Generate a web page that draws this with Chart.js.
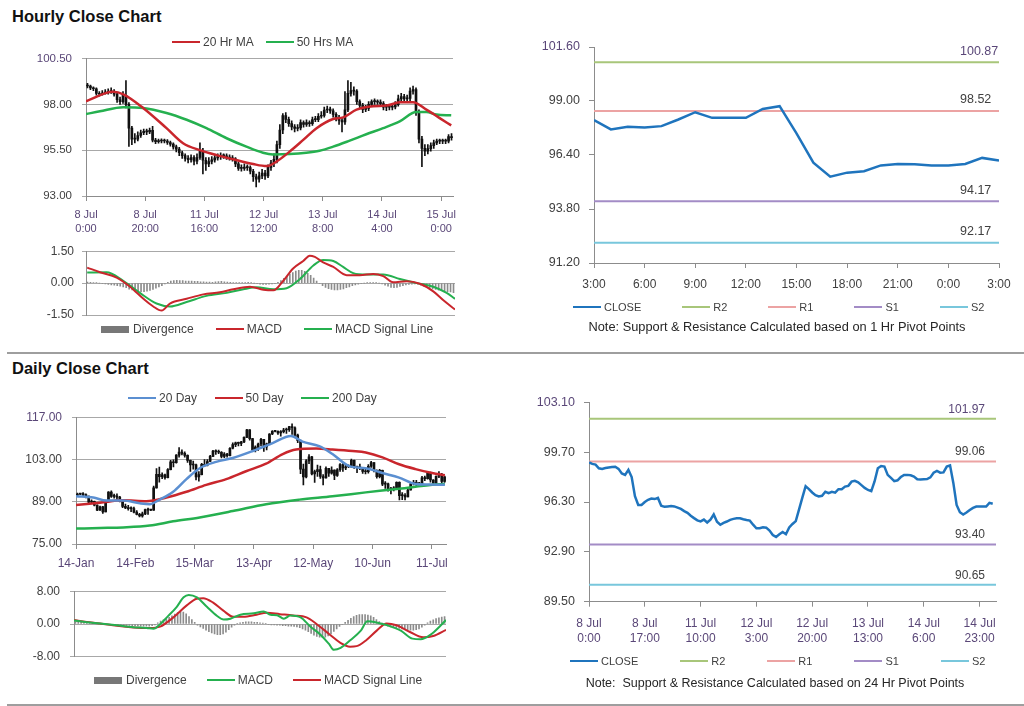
<!DOCTYPE html>
<html>
<head>
<meta charset="utf-8">
<title>Hourly and Daily Close Charts</title>
<script src="https://cdn.jsdelivr.net/npm/chart.js@4.4.1/dist/chart.umd.min.js"></script>
<style>
  body { margin: 0; background: #fff; font-family: Arial, "Liberation Sans", sans-serif; }
  #page { position: relative; width: 1024px; height: 706px; overflow: hidden; }
  canvas { position: absolute; }
  .heading { position: absolute; left: 12px; font-size: 16.5px; line-height: 15px; font-weight: bold; color: #111; }
  .rule { position: absolute; left: 7px; width: 1017px; height: 2px; background: #9e9e9e; }
  .legend { position: absolute; display: flex; align-items: center; height: 16px; font-size: 12px; color: #404040; white-space: nowrap; }
  .legend .item { display: flex; align-items: center; height: 16px; }
  .legend i { display: inline-block; width: 28px; height: 2px; margin-right: 3px; }
  .legend i.box { height: 7px; margin-right: 4px; }
  .note { position: absolute; width: 400px; text-align: center; line-height: 14px; color: #262626; white-space: pre; }
</style>
</head>
<body>
<div id="page">
  <div class="heading" style="top:8.5px">Hourly Close Chart</div>
  <div class="heading" style="top:361px">Daily Close Chart</div>
  <div class="rule" style="top:352px"></div>
  <div class="rule" style="top:704px"></div>

  <canvas id="hourlyPrice" width="470" height="206" style="left:0;top:30px"></canvas>
  <canvas id="hourlyMacd" width="470" height="95" style="left:0;top:236px"></canvas>
  <canvas id="hourlyPivot" width="504" height="270" style="left:520px;top:30px"></canvas>
  <canvas id="dailyPrice" width="470" height="172" style="left:0;top:400px"></canvas>
  <canvas id="dailyMacd" width="470" height="100" style="left:0;top:574px"></canvas>
  <canvas id="dailyPivot" width="504" height="280" style="left:520px;top:380px"></canvas>

  <div class="legend" id="legHourlyPrice" style="left:172px;top:34px;gap:12px"></div>
  <div class="legend" id="legHourlyMacd" style="left:101px;top:321px;gap:22px"></div>
  <div class="legend" id="legHourlyPivot" style="left:573px;top:299px;gap:41px;font-size:11px"></div>
  <div class="legend" id="legDailyPrice" style="left:128px;top:390px;gap:17.5px"></div>
  <div class="legend" id="legDailyMacd" style="left:94px;top:672px;gap:20px"></div>
  <div class="legend" id="legDailyPivot" style="left:570px;top:653px;gap:42px;font-size:11px"></div>

  <div class="note" style="left:577px;top:320px;font-size:12.8px">Note: Support &amp; Resistance Calculated based on 1 Hr Pivot Points</div>
  <div class="note" style="left:575px;top:676px;font-size:12.5px">Note:  Support &amp; Resistance Calculated based on 24 Hr Pivot Points</div>
</div>

<script>
// ---------- hourly data (8 Jul 0:00 -> 15 Jul 3:00, one bar per hour) ----------
const hourlyTickAt = [0, 20, 40, 60, 80, 100, 120];
const hourlyTickLabels = [['8 Jul', '0:00'], ['8 Jul', '20:00'], ['11 Jul', '16:00'], ['12 Jul', '12:00'],
  ['13 Jul', '8:00'], ['14 Jul', '4:00'], ['15 Jul', '0:00']];
const hourlyPriceTicks = [93, 95.5, 98, 100.5];

const hourlyFirstOpen = 99.05;
const hourlyClose = [
  99.00, 98.90, 98.85, 98.60, 98.55, 98.62, 98.66, 98.69, 98.71, 98.56,
  98.25, 98.15, 98.49, 98.00, 96.70, 96.10, 96.10, 96.30, 96.45, 96.53,
  96.50, 96.58, 96.05, 95.97, 96.00, 96.02, 96.00, 95.92, 95.83, 95.68,
  95.56, 95.36, 95.20, 95.05, 94.98, 95.10, 94.90, 95.10, 95.45, 94.95,
  94.75, 94.88, 94.97, 95.08, 95.15, 95.19, 95.19, 95.12, 95.07, 95.03,
  94.75, 94.51, 94.51, 94.58, 94.55, 94.35, 94.05, 93.92, 94.10, 94.25,
  94.10, 94.56, 94.80, 95.00, 95.80, 96.60, 97.38, 97.18, 96.95, 96.77,
  96.68, 96.72, 97.00, 96.90, 97.00, 96.94, 97.17, 97.17, 97.35, 97.40,
  97.69, 97.74, 97.64, 97.45, 97.26, 97.12, 97.04, 97.70, 98.60, 98.75,
  98.72, 98.15, 97.94, 97.72, 97.78, 98.00, 98.15, 98.15, 98.12, 98.04,
  97.85, 97.84, 97.85, 97.86, 97.98, 98.30, 98.42, 98.30, 98.32, 98.72,
  98.80, 97.60, 96.10, 95.60, 95.45, 95.58, 95.75, 95.90, 95.99, 95.99,
  95.99, 95.99, 96.24, 96.18
];
const hourlyHigh = [
  99.15, 99.05, 98.95, 98.90, 98.70, 98.75, 98.80, 98.85, 98.90, 98.80,
  98.60, 98.40, 98.70, 99.30, 98.10, 96.80, 96.40, 96.50, 96.60, 96.65,
  96.65, 96.70, 96.80, 96.15, 96.10, 96.12, 96.10, 96.08, 96.00, 95.90,
  95.78, 95.65, 95.45, 95.30, 95.20, 95.25, 95.20, 95.30, 95.90, 95.60,
  95.10, 95.10, 95.15, 95.25, 95.30, 95.35, 95.30, 95.30, 95.25, 95.20,
  95.10, 94.85, 94.70, 94.75, 94.70, 94.65, 94.45, 94.20, 94.30, 94.45,
  94.40, 94.70, 94.95, 95.30, 96.00, 96.90, 97.50, 97.55, 97.30, 97.10,
  96.90, 96.90, 97.15, 97.10, 97.15, 97.10, 97.30, 97.35, 97.50, 97.60,
  97.85, 97.90, 97.85, 97.75, 97.55, 97.40, 97.25, 98.70, 99.30, 99.20,
  98.95, 98.80, 98.25, 98.05, 97.95, 98.15, 98.25, 98.30, 98.25, 98.25,
  98.15, 98.00, 98.00, 98.00, 98.15, 98.50, 98.60, 98.55, 98.50, 98.90,
  99.00, 98.90, 97.70, 96.25, 95.80, 95.80, 95.90, 96.05, 96.10, 96.10,
  96.10, 96.10, 96.35, 96.40
];
const hourlyLow = [
  98.90, 98.80, 98.75, 98.50, 98.45, 98.50, 98.55, 98.55, 98.60, 98.45,
  98.10, 98.00, 98.05, 97.80, 95.70, 95.80, 95.90, 96.00, 96.20, 96.35,
  96.35, 96.40, 95.95, 95.85, 95.88, 95.90, 95.90, 95.82, 95.72, 95.55,
  95.40, 95.20, 95.05, 94.90, 94.80, 94.85, 94.70, 94.75, 95.00, 94.20,
  94.40, 94.60, 94.75, 94.85, 94.95, 95.00, 95.05, 95.00, 94.95, 94.90,
  94.60, 94.40, 94.35, 94.40, 94.40, 94.20, 93.80, 93.50, 93.75, 93.95,
  93.90, 94.00, 94.40, 94.60, 94.80, 95.60, 96.40, 97.00, 96.80, 96.60,
  96.50, 96.55, 96.60, 96.75, 96.80, 96.80, 96.85, 97.05, 97.05, 97.25,
  97.30, 97.55, 97.50, 97.30, 97.10, 96.90, 96.50, 96.90, 97.60, 98.45,
  98.50, 98.00, 97.80, 97.55, 97.60, 97.65, 97.90, 98.00, 98.00, 97.90,
  97.70, 97.65, 97.70, 97.70, 97.75, 97.90, 98.20, 98.15, 98.15, 98.20,
  98.55, 97.40, 95.90, 94.60, 95.20, 95.30, 95.45, 95.60, 95.80, 95.85,
  95.85, 95.85, 95.90, 96.05
];

const hourlyMa20X = [0, 9.2, 12.6, 19.3, 27.2, 32.8, 38.5, 44.1, 49.7, 56.5, 61, 64.3, 68.8, 73.4, 77.9,
  83.5, 86.9, 91.4, 97, 101.5, 106, 110.5, 115, 119.5, 123.4];
const hourlyMa20 = [98.17, 98.68, 98.54, 97.8, 96.7, 95.88, 95.5, 95.23, 95.0, 94.74, 94.63, 94.87, 95.42, 96.06, 96.7,
  97.2, 97.29, 97.71, 97.9, 97.93, 98.11, 98.11, 97.71, 97.25, 96.85];
const hourlyMa50X = [0, 4.7, 12.6, 19.3, 27.2, 34, 40.7, 47.5, 54.2, 59.8, 63.2, 68.8, 74.4, 78.9, 83.5,
  89.1, 94.7, 100.4, 106, 111.6, 115, 118.4, 123.4];
const hourlyMa50 = [97.47, 97.62, 97.84, 97.8, 97.53, 97.16, 96.7, 96.15, 95.69, 95.36, 95.27, 95.29, 95.36, 95.47, 95.69,
  96.02, 96.37, 96.7, 97.07, 97.58, 97.58, 97.44, 97.4];

const hourlyMacdTicks = [-1.5, 0, 1.5];
const hourlyMacdX = [0.4, 4.7, 10.3, 14.8, 19.3, 22.6, 25.4, 28.2, 33.8, 39.4, 45, 49.5, 55.1, 59.6, 63, 66.3,
  69.6, 73, 75.2, 76.9, 79.7, 83.1, 87.6, 92, 96.5, 99.9, 103.2, 107.7, 112.2, 116.7, 120.1, 124];
const hourlyMacd = [0.73, 0.51, 0.26, -0.17, -0.74, -1.1, -1.29, -0.96, -0.74, -0.53, -0.43, -0.29, -0.17, -0.31, -0.34, 0.11,
  0.69, 1.04, 1.29, 1.23, 0.97, 0.76, 0.37, 0.37, 0.43, 0.33, 0.04, 0.09, -0.03, -0.39, -0.81, -1.24];
const hourlySignalX = [0.4, 6.9, 12.5, 18.1, 23.7, 28.2, 33.8, 40.5, 47.3, 52.9, 57.3, 62.9, 67.4, 71.9, 76.4,
  79.7, 83.1, 86.4, 89.8, 94.3, 99.9, 105.5, 111.1, 116.7, 121.2, 124];
const hourlySignal = [0.5, 0.51, 0.11, -0.46, -0.96, -1.1, -0.89, -0.6, -0.46, -0.29, -0.2, -0.29, -0.24, 0.19, 0.83,
  1.09, 1.04, 0.76, 0.47, 0.4, 0.4, 0.19, 0, -0.17, -0.46, -0.74];
const hourlyDivergence = [
  0.05, 0.04, 0.03, 0.02, 0.00, -0.02, -0.04, -0.06, -0.08, -0.10,
  -0.12, -0.15, -0.18, -0.22, -0.28, -0.32, -0.36, -0.38, -0.40, -0.40,
  -0.38, -0.35, -0.30, -0.24, -0.18, -0.12, -0.04, 0.04, 0.10, 0.12,
  0.13, 0.12, 0.12, 0.10, 0.10, 0.10, 0.08, 0.08, 0.06, 0.06,
  0.05, 0.05, 0.04, 0.06, 0.07, 0.08, 0.06, 0.05, 0.04, 0.03,
  0.02, 0.02, 0.02, 0.03, 0.04, 0.02, 0.00, -0.03, -0.05, -0.06,
  -0.06, -0.05, -0.04, -0.02, 0.04, 0.12, 0.22, 0.32, 0.42, 0.50,
  0.56, 0.60, 0.60, 0.55, 0.46, 0.36, 0.24, 0.10, -0.02, -0.12,
  -0.20, -0.26, -0.30, -0.32, -0.32, -0.30, -0.27, -0.22, -0.18, -0.12,
  -0.08, -0.05, -0.02, 0.00, 0.02, 0.03, 0.03, 0.02, 0.00, -0.04,
  -0.10, -0.15, -0.20, -0.22, -0.20, -0.16, -0.12, -0.08, -0.06, -0.05,
  -0.04, -0.05, -0.10, -0.15, -0.20, -0.24, -0.27, -0.30, -0.33, -0.35,
  -0.38, -0.40, -0.42, -0.45
];

// ---------- 1 hr pivot chart (14 Jul 3:00 -> 15 Jul 3:00) ----------
const pivotHourTickAt = [0, 3, 6, 9, 12, 15, 18, 21, 24];
const pivotHourTickLabels = ['3:00', '6:00', '9:00', '12:00', '15:00', '18:00', '21:00', '0:00', '3:00'];
const pivotHourYTicks = [91.2, 93.8, 96.4, 99.0, 101.6];
const pivotHourClose = [98.08, 97.63, 97.76, 97.73, 97.79, 98.11, 98.46, 98.19, 98.19, 98.19, 98.62, 98.75, 97.44,
  96.03, 95.36, 95.55, 95.62, 95.90, 95.97, 95.95, 95.90, 95.90, 95.97, 96.26, 96.13];
const pivotHourLevels = [100.87, 98.52, 94.17, 92.17];   // R2, R1, S1, S2

// ---------- daily data (14 Jan -> 15 Jul, weekdays) ----------
const dailyTickAt = [0, 21, 42, 63, 84, 105, 126];
const dailyTickLabels = ['14-Jan', '14-Feb', '15-Mar', '13-Apr', '12-May', '10-Jun', '11-Jul'];
const dailyPriceTicks = [75, 89, 103, 117];

const dailyFirstOpen = 91.2;
const dailyClose = [
  91.54, 91.50, 91.38, 90.86, 88.86, 89.11, 87.87, 86.19, 87.33, 85.64,
  89.34, 92.19, 90.77, 90.86, 90.54, 89.03, 87.48, 86.94, 86.71, 86.73,
  85.58, 84.81, 84.32, 84.99, 86.36, 86.20, 86.20, 93.57, 98.10, 97.28,
  97.88, 96.97, 99.63, 102.23, 101.91, 104.42, 105.44, 105.02, 104.38, 102.70,
  101.16, 101.19, 97.18, 97.98, 101.42, 101.07, 102.33, 104.00, 105.75, 105.60,
  105.40, 103.98, 104.79, 104.27, 106.72, 107.94, 108.47, 108.34, 108.83, 110.30,
  112.79, 109.92, 106.25, 107.11, 108.11, 109.66, 107.12, 108.15, 111.45, 112.29,
  112.30, 111.78, 112.21, 112.76, 112.86, 113.93, 113.52, 111.05, 109.24, 99.80,
  97.18, 102.55, 103.88, 98.21, 98.97, 99.65, 97.37, 96.91, 100.10, 98.44,
  99.49, 97.70, 99.59, 101.32, 100.23, 100.59, 100.60, 102.70, 100.29, 100.40,
  100.22, 99.01, 98.94, 100.74, 101.93, 99.29, 97.30, 99.37, 94.81, 94.95,
  93.01, 93.26, 93.40, 95.41, 91.02, 91.16, 90.61, 92.89, 94.96, 95.42,
  94.94, 95.00, 96.89, 96.65, 98.67, 96.20, 95.15, 97.43, 98.05, 95.69,
  97.24
];
const dailyHigh = [
  91.9, 91.7, 92.0, 91.6, 90.9, 89.6, 89.2, 88.0, 87.6, 87.5,
  89.5, 92.4, 92.6, 91.5, 91.6, 90.8, 89.4, 88.2, 87.8, 87.3,
  87.2, 86.1, 85.2, 85.6, 86.6, 86.9, 86.5, 94.2, 100.0, 100.5,
  98.6, 98.2, 100.0, 102.7, 102.9, 104.6, 106.9, 106.2, 105.5, 104.5,
  102.8, 102.5, 101.5, 99.0, 101.7, 103.0, 103.0, 104.4, 106.0, 106.2,
  106.1, 105.6, 105.3, 105.0, 106.9, 108.5, 108.8, 108.8, 109.0, 110.5,
  113.0, 112.9, 110.0, 107.5, 108.4, 110.0, 109.7, 108.4, 111.6, 112.6,
  112.5, 112.5, 112.6, 113.3, 113.4, 114.0, 114.8, 113.8, 111.4, 109.4,
  101.5, 103.0, 104.6, 104.0, 99.5, 101.1, 100.8, 98.0, 100.6, 100.1,
  100.6, 99.6, 100.0, 101.6, 101.6, 101.1, 101.2, 103.1, 102.8, 100.8,
  101.5, 100.4, 100.0, 101.3, 102.4, 102.0, 99.6, 99.7, 99.5, 95.7,
  95.2, 93.8, 94.0, 95.6, 95.6, 92.0, 91.7, 93.2, 95.3, 96.1,
  96.1, 95.4, 97.4, 97.5, 99.0, 98.8, 96.3, 97.6, 99.0, 98.4,
  97.5
];
const dailyLow = [
  90.9, 91.3, 90.9, 90.3, 88.6, 88.5, 87.6, 86.0, 86.1, 85.1,
  85.6, 89.3, 90.4, 90.2, 89.6, 88.9, 87.0, 86.7, 86.2, 85.7,
  85.3, 84.6, 84.0, 83.9, 84.7, 84.8, 86.0, 86.1, 93.5, 95.5,
  96.6, 96.5, 96.9, 99.5, 100.5, 101.8, 103.8, 104.5, 103.8, 102.0,
  99.0, 99.8, 96.2, 95.8, 97.9, 100.7, 100.9, 102.3, 103.9, 104.7,
  104.9, 103.5, 103.6, 103.8, 104.2, 106.5, 107.2, 107.5, 107.6, 108.6,
  110.2, 109.4, 105.8, 105.5, 106.0, 107.5, 105.7, 106.2, 107.9, 111.2,
  112.1, 111.3, 110.7, 111.8, 111.6, 112.3, 111.3, 110.2, 108.6, 98.3,
  94.6, 96.9, 101.6, 97.9, 95.4, 97.4, 96.7, 94.6, 96.8, 97.4,
  98.1, 96.3, 97.4, 99.0, 99.0, 99.6, 100.3, 100.4, 100.0, 98.6,
  99.6, 98.4, 98.2, 98.5, 100.4, 98.9, 96.8, 96.9, 94.3, 93.4,
  92.5, 91.6, 92.6, 93.2, 89.6, 89.7, 89.6, 90.6, 92.8, 94.6,
  94.3, 94.7, 94.9, 96.0, 96.5, 95.5, 94.6, 94.9, 97.0, 95.2,
  95.4
];

const daily20X = [0, 6.1, 10.8, 16.7, 22.6, 26.1, 29.6, 34.4, 39.1, 43.8, 49.6, 55.5, 62.6, 69.6, 76.1,
  80.2, 86.1, 90.8, 96.7, 102.6, 108.5, 114.4, 120.2, 124.9, 130.6];
const daily20 = [90.8, 90.4, 89.4, 89.4, 88.5, 88.2, 89.7, 92.3, 96.5, 100.1, 102.2, 103.5, 105.8, 108.4, 110.8,
  108.9, 107.4, 104.8, 100.8, 100.1, 98.5, 97.0, 94.9, 94.7, 94.6];
const daily50X = [0, 8.5, 16.7, 24.9, 32, 39.1, 46.1, 53.2, 60.2, 67.3, 73.2, 77.9, 85, 90.8, 97.9,
  102.6, 108.5, 114.4, 120.2, 126.1, 130.6];
const daily50 = [87.9, 88.7, 89.5, 89.2, 90.4, 92.3, 94.6, 96.5, 99.1, 101.6, 104.8, 106.3, 106.6, 106.3, 105.8,
  105.3, 103.7, 101.4, 99.8, 98.5, 97.8];
const daily200X = [0, 8.5, 16.7, 26.1, 34.4, 43.8, 55.5, 67.3, 79.1, 90.8, 102.6, 114.4, 126.1, 130.6];
const daily200 = [80.1, 80.3, 80.5, 81.1, 82.5, 83.8, 85.9, 88.2, 89.7, 90.8, 92.1, 93.3, 94.6, 94.9];

const dailyMacdTicks = [-8, 0, 8];
const dailyMacdX = [0, 4.5, 9.2, 15.1, 20.9, 25.6, 28, 30.4, 32.7, 36.2, 38.6, 40.4, 43.3, 46.8, 50.4,
  52.7, 55.1, 58.6, 63.3, 66.8, 69.2, 71.5, 73.9, 76.2, 79.8, 83.3, 86.8, 89.8, 91.5, 93.9,
  97.4, 101, 103.3, 106.8, 110.4, 115.1, 119.2, 122.1, 125.6, 129.2, 131];
const dailyMacd = [0.84, 0.45, 0.13, -0.32, -0.78, -0.97, -1.17, 0, 1.62, 4.2, 6.5, 7.1, 6.5, 4.2, 1.95,
  1.1, 1.3, 2.27, 2.6, 3.05, 2.27, 2.14, 1.3, 2.08, 1.62, -0.65, -2.6, -4.87, -6.3, -5.84,
  -3.9, -1.62, 0.65, 0.32, -0.32, -1.62, -3.57, -3.7, -2.6, -0.32, 0.97];
const dailySignalX = [0, 4.5, 9.2, 15.1, 20.9, 26.8, 30.3, 35, 39.7, 43.2, 45.5, 49, 52.6, 56.1, 59.6,
  64.3, 67.8, 72.5, 77.2, 81.9, 85.4, 90.1, 93.7, 97.2, 99.5, 103, 106.6, 110.1, 113.6, 118.3,
  123, 126.5, 131];
const dailySignal = [0.97, 0.52, 0.13, -0.45, -0.84, -0.97, -0.65, 1.62, 4.55, 6.17, 6.3, 5.2, 3.25, 1.75, 1.75,
  2.27, 2.73, 2.4, 2.08, 1.62, 0, -2.6, -4.55, -5.52, -5.4, -3.9, -1.62, 0.13, -0.32, -1.95,
  -3.25, -2.92, -1.43];
const dailyDivergence = [
  0.5, 0.45, 0.4, 0.35, 0.3, 0.2, 0.1, 0.05, 0.0, -0.05,
  -0.1, -0.1, -0.15, -0.2, -0.2, -0.25, -0.3, -0.3, -0.35, -0.35,
  -0.4, -0.4, -0.45, -0.5, -0.5, -0.55, -0.5, -0.4,
  -0.2, 0.3, 0.7, 1.0, 1.3, 1.6, 2.0, 2.4, 2.8, 3.0, 2.9, 2.5, 1.8, 1.1, 0.4,
  -0.3, -0.7, -1.1, -1.5, -1.9, -2.2, -2.4, -2.6, -2.6, -2.4, -2.0, -1.4, -0.8, -0.3,
  0.1, 0.3, 0.4, 0.5, 0.5, 0.5, 0.4, 0.4, 0.3, 0.2, 0.1,
  -0.1, -0.2, -0.2, -0.3, -0.3, -0.4, -0.4, -0.5, -0.5, -0.6, -0.7, -0.9,
  -1.2, -1.5, -1.9, -2.3, -2.7, -3.0, -3.2, -3.3, -3.2, -2.9, -2.4, -1.8, -1.2,
  -0.6, -0.1, 0.4, 0.9,
  1.4, 1.8, 2.1, 2.3, 2.3, 2.3, 2.2, 2.0, 1.6, 1.1,
  0.6, 0.2, -0.2, -0.5,
  -0.7, -0.9, -1.0, -1.1, -1.2, -1.3, -1.4, -1.5, -1.5, -1.4, -1.2, -0.8, -0.3,
  0.3, 0.7, 1.0, 1.3, 1.5, 1.7, 1.8
];

// ---------- 24 hr pivot chart (same hourly closes) ----------
const pivotDayTickAt = [0, 17, 34, 51, 68, 85, 102, 119];
const pivotDayTickLabels = [['8 Jul', '0:00'], ['8 Jul', '17:00'], ['11 Jul', '10:00'], ['12 Jul', '3:00'],
  ['12 Jul', '20:00'], ['13 Jul', '13:00'], ['14 Jul', '6:00'], ['14 Jul', '23:00']];
const pivotDayYTicks = [89.5, 92.9, 96.3, 99.7, 103.1];
const pivotDayLevels = [101.97, 99.06, 93.40, 90.65];    // R2, R1, S1, S2

/* ======================
   STYLE
====================== */
const RED = '#c9262c';
const GREEN = '#25b04f';
const BLUE = '#5b8fd1';
const CLOSE_BLUE = '#1f74bd';
const LEVEL_NAMES = ['R2', 'R1', 'S1', 'S2'];
const LEVEL_COLORS = ['#a8c67a', '#eca3a3', '#a38cc6', '#78c7dc'];
const BAR_GRAY = '#8c8c8c';
const AXIS = '#8c8c8c';
const GRID = '#a8a8a8';
const PURPLE = '#5a4778';
const TEXT = '#404040';

Chart.defaults.font.family = 'Arial, "Liberation Sans", sans-serif';
Chart.defaults.font.size = 12;
Chart.defaults.color = TEXT;
Chart.defaults.animation = false;
Chart.defaults.plugins.legend.display = false;
Chart.defaults.plugins.tooltip.enabled = false;
Chart.defaults.elements.point.radius = 0;
Chart.defaults.elements.point.hoverRadius = 0;

/* ======================
   HELPERS
====================== */
const pts = (xs, ys) => ys.map((y, i) => ({ x: xs[i], y }));
const fixTicks = values => scale => { scale.ticks = values.map(value => ({ value })); };
const fixWidth = w => scale => { scale.width = w; };
const fixHeight = h => scale => { scale.height = h; };
const topPurple = max => ctx => (ctx.tick && ctx.tick.value === max ? PURPLE : TEXT);

function candles(close, high, low, firstOpen, body) {
  const open = close.map((c, i) => (i ? close[i - 1] : firstOpen));
  return [
    { type: 'bar', data: close.map((c, i) => ({ x: i + 0.5, y: [low[i], high[i]] })),
      backgroundColor: '#111', barThickness: 1, grouped: false, order: 2 },
    { type: 'bar', data: close.map((c, i) => ({ x: i + 0.5, y: [open[i], c] })),
      backgroundColor: '#111', barThickness: body, minBarLength: 1, grouped: false, order: 2 }
  ];
}

function smoothLine(label, xs, ys, color, width) {
  return { type: 'line', label, data: pts(xs, ys), borderColor: color, backgroundColor: color,
    borderWidth: width, cubicInterpolationMode: 'monotone', order: 0 };
}

function divergenceBars(values) {
  return { type: 'bar', label: 'Divergence', data: values.map((v, i) => ({ x: i + 0.5, y: v })),
    backgroundColor: BAR_GRAY, barThickness: 1, grouped: false, order: 2 };
}

function levelLines(levels, max) {
  return levels.map((v, i) => ({
    type: 'line', label: LEVEL_NAMES[i], data: [{ x: 0, y: v }, { x: max, y: v }],
    borderColor: LEVEL_COLORS[i], backgroundColor: LEVEL_COLORS[i], borderWidth: 2, order: 1,
    levelText: v.toFixed(2)
  }));
}

// writes the value of each pivot level just above its line
const levelLabels = {
  id: 'levelLabels',
  afterDatasetsDraw(chart, args, opts) {
    const { ctx, chartArea, scales } = chart;
    ctx.save();
    ctx.font = opts.size + 'px Arial, "Liberation Sans", sans-serif';
    ctx.textAlign = opts.align;
    ctx.textBaseline = 'middle';
    chart.data.datasets.forEach((ds, i) => {
      if (!ds.levelText) return;
      ctx.fillStyle = i === 1 ? PURPLE : TEXT;
      const y = scales.y.getPixelForValue(ds.data[0].y);
      ctx.fillText(ds.levelText, chartArea.right + opts.dx, y - opts.lift);
    });
    ctx.restore();
  }
};

function htmlLegend(chart, id) {
  const box = document.getElementById(id);
  chart.data.datasets.filter(ds => ds.label).forEach(ds => {
    const item = document.createElement('span');
    item.className = 'item';
    const key = document.createElement('i');
    if (ds.type === 'bar') {
      key.className = 'box';
      key.style.backgroundColor = '#777';
    } else {
      key.style.backgroundColor = ds.borderColor;
    }
    item.append(key, ds.label);
    box.append(item);
  });
}

function priceScales(o) {
  return {
    x: { type: 'linear', min: 0, max: o.xMax, offset: false,
      afterBuildTicks: fixTicks(o.tickAt), afterFit: fixHeight(o.xHeight),
      grid: { drawOnChartArea: false, tickLength: 5, color: AXIS, offset: false },
      border: { color: AXIS },
      ticks: { autoSkip: false, maxRotation: 0, padding: o.xPad, color: PURPLE,
        font: { size: o.xFont, lineHeight: 1.25 }, callback: (v, i) => o.tickLabels[i] } },
    y: { min: o.yTicks[0], max: o.yTicks[o.yTicks.length - 1],
      afterBuildTicks: fixTicks(o.yTicks), afterFit: fixWidth(o.yWidth),
      grid: { color: GRID, tickLength: 4 }, border: { color: AXIS },
      ticks: { padding: 10, font: { size: o.yFont }, color: topPurple(o.yTicks[o.yTicks.length - 1]),
        callback: v => v.toFixed(2) } }
  };
}

function macdScales(xMax, yTicks, yWidth, pad) {
  return {
    x: { type: 'linear', min: 0, max: xMax, offset: false, display: false },
    y: { min: yTicks[0], max: yTicks[yTicks.length - 1],
      afterBuildTicks: fixTicks(yTicks), afterFit: fixWidth(yWidth),
      grid: { color: GRID, tickLength: 4 }, border: { color: AXIS },
      ticks: { padding: pad, callback: v => v.toFixed(2) } }
  };
}

function pivotScales(o) {
  return {
    x: { type: 'linear', min: 0, max: o.xMax, offset: false,
      afterBuildTicks: fixTicks(o.tickAt), afterFit: fixHeight(o.xHeight),
      grid: { drawOnChartArea: false, tickLength: 5, color: AXIS },
      border: { color: AXIS },
      ticks: { autoSkip: false, maxRotation: 0, padding: 9, color: o.xColor,
        font: { size: 12, lineHeight: 1.25 }, callback: (v, i) => o.tickLabels[i] } },
    y: { min: o.yTicks[0], max: o.yTicks[o.yTicks.length - 1],
      afterBuildTicks: fixTicks(o.yTicks), afterFit: fixWidth(o.yWidth),
      grid: { drawOnChartArea: false, tickLength: 5, color: AXIS }, border: { color: AXIS },
      ticks: { padding: 9, font: { size: 12.5 }, color: topPurple(o.yTicks[o.yTicks.length - 1]),
        callback: v => v.toFixed(2) } }
  };
}

/* ======================
   HOURLY CLOSE CHART
====================== */
const hourlyPriceChart = new Chart(document.getElementById('hourlyPrice'), {
  type: 'line',
  data: { datasets: [
    smoothLine('20 Hr MA', hourlyMa20X, hourlyMa20, RED, 2.5),
    smoothLine('50 Hrs MA', hourlyMa50X, hourlyMa50, GREEN, 2.5),
    ...candles(hourlyClose, hourlyHigh, hourlyLow, hourlyFirstOpen, 2)
  ] },
  options: {
    responsive: false,
    layout: { padding: { top: 28.5, right: 17 } },
    scales: priceScales({ xMax: 124, tickAt: hourlyTickAt, tickLabels: hourlyTickLabels, xHeight: 40,
      xPad: 7, xFont: 11, yTicks: hourlyPriceTicks, yWidth: 86, yFont: 11.5 })
  }
});
htmlLegend(hourlyPriceChart, 'legHourlyPrice');

const hourlyMacdChart = new Chart(document.getElementById('hourlyMacd'), {
  type: 'line',
  data: { datasets: [
    divergenceBars(hourlyDivergence),
    smoothLine('MACD', hourlyMacdX, hourlyMacd, RED, 2),
    smoothLine('MACD Signal Line', hourlySignalX, hourlySignal, GREEN, 2)
  ] },
  options: {
    responsive: false,
    layout: { padding: { top: 9, right: 15, bottom: 16 } },
    scales: macdScales(124, hourlyMacdTicks, 86, 8)
  }
});
htmlLegend(hourlyMacdChart, 'legHourlyMacd');

const hourlyPivotChart = new Chart(document.getElementById('hourlyPivot'), {
  type: 'line',
  data: { datasets: [
    { type: 'line', label: 'CLOSE', data: pivotHourClose.map((y, i) => ({ x: i, y })),
      borderColor: CLOSE_BLUE, borderWidth: 2.5, order: 0 },
    ...levelLines(pivotHourLevels, 24)
  ] },
  options: {
    responsive: false,
    layout: { padding: { top: 17, right: 25 } },
    scales: pivotScales({ xMax: 24, tickAt: pivotHourTickAt, tickLabels: pivotHourTickLabels, xHeight: 37,
      xColor: TEXT, yTicks: pivotHourYTicks, yWidth: 74 }),
    plugins: { levelLabels: { size: 12.5, align: 'left', dx: -39, lift: 11 } }
  },
  plugins: [levelLabels]
});
htmlLegend(hourlyPivotChart, 'legHourlyPivot');

/* ======================
   DAILY CLOSE CHART
====================== */
const dailyPriceChart = new Chart(document.getElementById('dailyPrice'), {
  type: 'line',
  data: { datasets: [
    smoothLine('20 Day', daily20X, daily20, BLUE, 2.5),
    smoothLine('50 Day', daily50X, daily50, RED, 2.5),
    smoothLine('200 Day', daily200X, daily200, GREEN, 2.5),
    ...candles(dailyClose, dailyHigh, dailyLow, dailyFirstOpen, 2)
  ] },
  options: {
    responsive: false,
    layout: { padding: { top: 9, right: 24 } },
    scales: priceScales({ xMax: 131, tickAt: dailyTickAt, tickLabels: dailyTickLabels, xHeight: 28,
      xPad: 7, xFont: 12, yTicks: dailyPriceTicks, yWidth: 76, yFont: 12 })
  }
});
htmlLegend(dailyPriceChart, 'legDailyPrice');

const dailyMacdChart = new Chart(document.getElementById('dailyMacd'), {
  type: 'line',
  data: { datasets: [
    divergenceBars(dailyDivergence),
    smoothLine('MACD', dailyMacdX, dailyMacd, GREEN, 2),
    smoothLine('MACD Signal Line', dailySignalX, dailySignal, RED, 2)
  ] },
  options: {
    responsive: false,
    layout: { padding: { top: 10, right: 24, bottom: 7.3 } },
    scales: macdScales(131, dailyMacdTicks, 74, 10)
  }
});
htmlLegend(dailyMacdChart, 'legDailyMacd');

const dailyPivotChart = new Chart(document.getElementById('dailyPivot'), {
  type: 'line',
  data: { datasets: [
    { type: 'line', label: 'CLOSE', data: hourlyClose.map((y, i) => ({ x: i, y })),
      borderColor: CLOSE_BLUE, borderWidth: 2.5, order: 0 },
    ...levelLines(pivotDayLevels, 124)
  ] },
  options: {
    responsive: false,
    layout: { padding: { top: 22.3, right: 28 } },
    scales: pivotScales({ xMax: 124, tickAt: pivotDayTickAt, tickLabels: pivotDayTickLabels, xHeight: 58.3,
      xColor: PURPLE, yTicks: pivotDayYTicks, yWidth: 69 }),
    plugins: { levelLabels: { size: 12, align: 'right', dx: -11, lift: 9.5 } }
  },
  plugins: [levelLabels]
});
htmlLegend(dailyPivotChart, 'legDailyPivot');
</script>
</body>
</html>
